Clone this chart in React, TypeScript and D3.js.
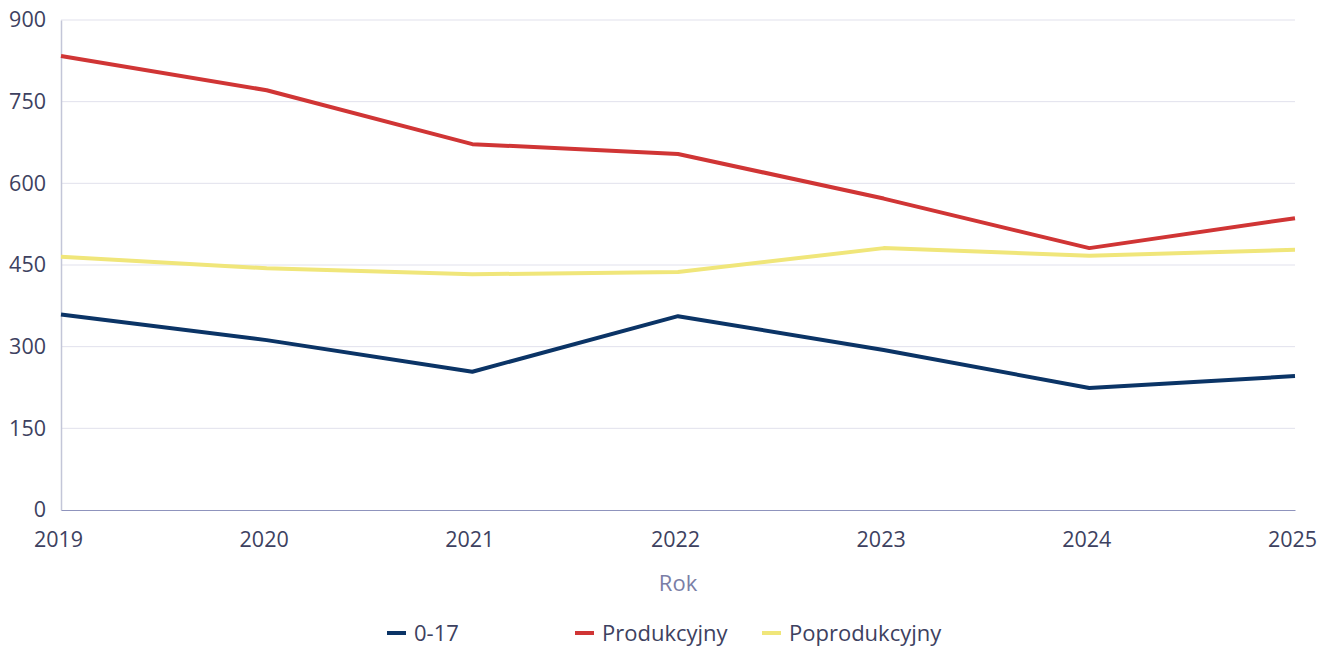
import React, { useRef, useEffect } from 'react'
import * as d3 from 'd3'

// dane wykresu
const years = ['2019', '2020', '2021', '2022', '2023', '2024', '2025']
const youth = [359, 312, 254, 356, 294, 224, 246]
const working = [834, 771, 672, 654, 572, 481, 536]
const retired = [465, 444, 433, 437, 481, 467, 478]
const yTicks = [0, 150, 300, 450, 600, 750, 900]

const seriesNames = ['0-17', 'Produkcyjny', 'Poprodukcyjny']
const seriesColors = ['#0b3466', '#d03535', '#f0e67a']

const FONT = '"Open Sans", "Noto Sans", sans-serif'

const App = () => {
	const svgRef = useRef<SVGSVGElement>(null)

	useEffect(() => {
		const svg = d3.select(svgRef.current)
		svg.selectAll('*').remove()

		const width = 1319
		const height = 648
		const margin = { top: 20, right: 24, bottom: 138, left: 61 }

		svg.attr('width', width).attr('height', height)

		const x = d3
			.scalePoint()
			.domain(years)
			.range([margin.left, width - margin.right])

		const y = d3
			.scaleLinear()
			.domain([0, 900])
			.range([height - margin.bottom, margin.top])

		// siatka
		svg
			.append('g')
			.selectAll('line')
			.data(yTicks.filter(d => d > 0))
			.enter()
			.append('line')
			.attr('x1', margin.left)
			.attr('x2', width - margin.right)
			.attr('y1', d => y(d))
			.attr('y2', d => y(d))
			.attr('stroke', '#e1e1ec')
			.attr('stroke-width', 1)

		// oś Y
		const yAxis = d3.axisLeft(y).tickValues(yTicks).tickSize(0).tickPadding(15)
		const gy = svg.append('g').attr('transform', `translate(${margin.left},0)`).call(yAxis)
		gy.select('.domain').attr('stroke', '#c3c6d8').attr('stroke-width', 1.5)
		gy.selectAll('text')
			.attr('font-family', FONT)
			.attr('font-size', 21.5)
			.attr('fill', '#3d4160')

		// oś X
		const xAxis = d3.axisBottom(x).tickSize(0).tickPadding(22)
		const gx = svg
			.append('g')
			.attr('transform', `translate(0,${height - margin.bottom})`)
			.call(xAxis)
		gx.select('.domain').attr('stroke', '#8f94bd').attr('stroke-width', 1)
		gx.selectAll('text')
			.attr('font-family', FONT)
			.attr('font-size', 21.5)
			.attr('fill', '#3d4160')
			.attr('dx', -3)

		// tytuł osi X
		svg
			.append('text')
			.attr('x', (margin.left + width - margin.right) / 2)
			.attr('y', 591)
			.attr('text-anchor', 'middle')
			.attr('font-family', FONT)
			.attr('font-size', 22)
			.attr('fill', '#7a7ea6')
			.text('Rok')

		// linie
		const line = d3
			.line<number>()
			.x((d, i) => x(years[i]) as number)
			.y(d => y(d))

		const allSeries = [youth, working, retired]
		allSeries.forEach((s, i) => {
			svg
				.append('path')
				.datum(s)
				.attr('d', line)
				.attr('fill', 'none')
				.attr('stroke', seriesColors[i])
				.attr('stroke-width', 4)
				.attr('stroke-linejoin', 'round')
		})

		// legenda
		const legendX = [387, 575, 762]
		const legend = svg
			.append('g')
			.selectAll('g')
			.data(seriesNames)
			.enter()
			.append('g')
			.attr('transform', (d, i) => `translate(${legendX[i]},633)`)
		legend
			.append('line')
			.attr('x1', 0)
			.attr('x2', 19)
			.attr('stroke', (d, i) => seriesColors[i])
			.attr('stroke-width', 4)
		legend
			.append('text')
			.attr('x', 27)
			.attr('dy', '0.35em')
			.attr('font-family', FONT)
			.attr('font-size', 22)
			.attr('fill', '#3d4160')
			.text(d => d)
	}, [])

	return <svg ref={svgRef} style={{ position: 'absolute', left: 0, top: 0 }}></svg>
}

export default App
